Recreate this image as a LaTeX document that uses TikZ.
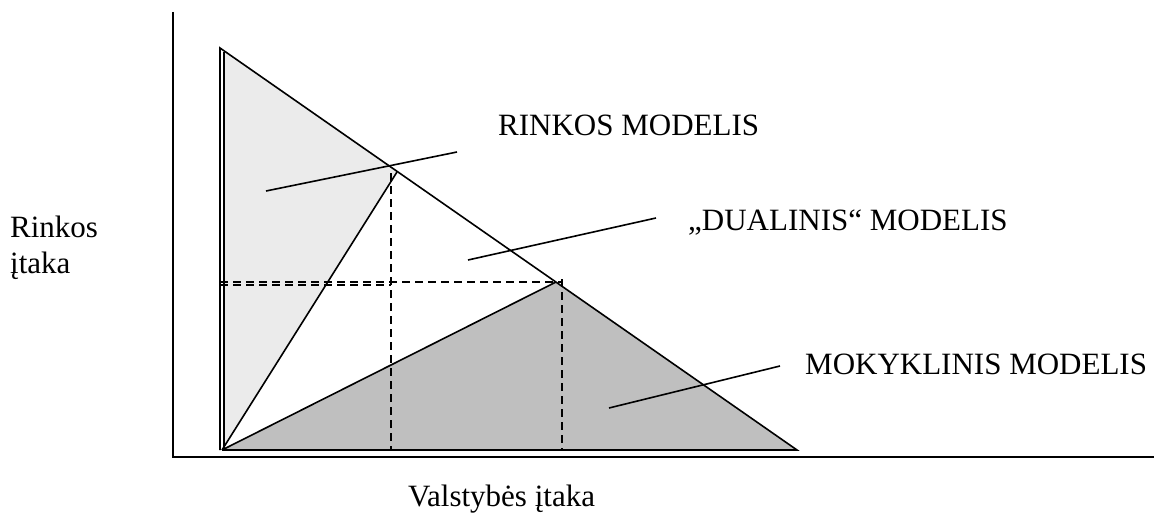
\documentclass[tikz,border=0pt]{standalone}
\usepackage{fontspec}
\setmainfont{Liberation Serif}
\usepackage{xcolor}
\usetikzlibrary{positioning}

\definecolor{lightgrey}{gray}{0.92}
\definecolor{darkgrey}{gray}{0.75}

\tikzset{
	label text/.style={anchor=base west,inner sep=0pt,font=\fontsize{31}{35}\selectfont},
	guide/.style={line width=1.5pt,dash pattern=on 8pt off 5pt},
	edge/.style={line width=1.6pt}
}

\begin{document}
\begin{tikzpicture}[x=1pt,y=-1pt]
	\useasboundingbox (0,0) rectangle (1154,516);
	\coordinate (top) at (220,48);
	\coordinate (origin) at (222,450);
	\coordinate (right) at (797,450);
	\coordinate (m1) at (392,167);
	\coordinate (m2) at (556,282);

	% areas
	\fill[lightgrey] (224,50) -- (m1) -- (397,172) -- (origin) -- (224,450) -- cycle;
	\fill[darkgrey] (origin) -- (m2) -- (right) -- cycle;

	% axes
	\draw[line width=1.8pt] (173,12) -- (173,457) -- (1154,457);

	% guides
	\draw[guide] (220,282) -- (562,282);
	\draw[guide] (220,285) -- (391,285);
	\draw[guide] (391,173) -- (391,450);
	\draw[guide] (562,279) -- (562,450);

	% triangle
	\draw[edge] (220,450) -- (top) -- (right) -- (origin);
	\draw[edge] (224,52) -- (224,450);
	\draw[edge] (origin) -- (397,172);
	\draw[edge] (origin) -- (m2);

	% labels
	\node[label text] (rinkos) at (498,136) {RINKOS MODELIS};
	\node[label text] (dual) at (688,230) {„DUALINIS“ MODELIS};
	\node[label text] (mok) at (805,374) {MOKYKLINIS MODELIS};
	\node[label text] (ylab) at (10,237) {Rinkos};
	\node[label text] (ylab2) at (10,273) {įtaka};
	\node[label text] (xlab) at (408,506) {Valstybės įtaka};

	\coordinate (r1) at (266,191);
	\coordinate (r2) at (457,152);
	\coordinate (d1) at (468,260);
	\coordinate (d2) at (656,218);
	\coordinate (k1) at (609,408);
	\coordinate (k2) at (780,366);
	\draw[edge] (r1) -- (r2);
	\draw[edge] (d1) -- (d2);
	\draw[edge] (k1) -- (k2);
\end{tikzpicture}
\end{document}
